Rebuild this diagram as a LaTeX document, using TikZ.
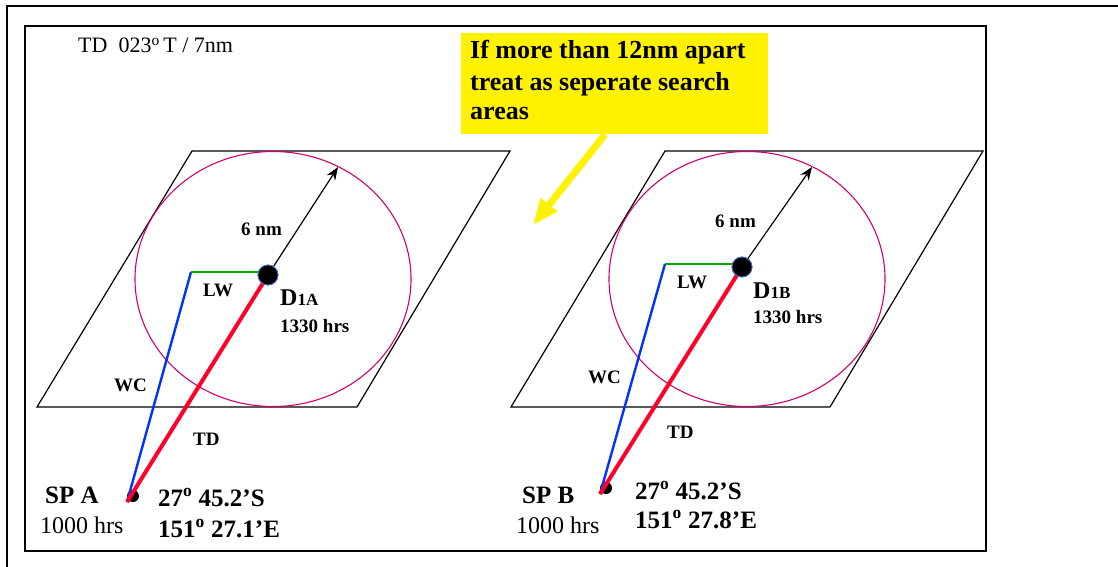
\documentclass[tikz,border=0pt]{standalone}
\usepackage{fontspec}
\setmainfont{Liberation Serif}
\usetikzlibrary{arrows.meta}
\definecolor{circcol}{RGB}{210,0,110}
\definecolor{tdred}{RGB}{255,0,40}
\definecolor{wcblue}{RGB}{0,50,255}
\definecolor{lwgreen}{RGB}{0,170,0}
\definecolor{dotedge}{RGB}{70,110,200}
\begin{document}
\begin{tikzpicture}[x=1pt,y=-1pt,
  para/.style={draw=black,line width=1.2pt},
  circ/.style={draw=circcol,line width=1.1pt},
  tdline/.style={draw=tdred,line width=4pt},
  wcline/.style={draw=wcblue,line width=2.4pt},
  lwline/.style={draw=lwgreen,line width=2.4pt},
  dpos/.style={circle,fill=black,draw=dotedge,line width=0.8pt,minimum size=20pt,inner sep=0pt},
  spdot/.style={circle,fill=black,minimum size=12pt,inner sep=0pt},
  radarrow/.style={draw=black,line width=1.2pt,-{Stealth[length=13pt,width=10pt]}},
  lab/.style={inner sep=0pt,anchor=base west,font=\fontsize{19}{21}\selectfont\bfseries},
  big/.style={inner sep=0pt,anchor=base west,font=\fontsize{25}{28}\selectfont\bfseries},
  reg/.style={inner sep=0pt,anchor=base west,font=\fontsize{24}{28}\selectfont},
  ytext/.style={inner sep=0pt,anchor=base west,font=\fontsize{26}{31}\selectfont\bfseries}
]
\useasboundingbox (0,0) rectangle (1118,567);
% frames
\draw[line width=2.5pt] (1118,6) -- (7,6) -- (7,570);
\draw[line width=2pt] (25,26) rectangle (986,551);

\node[inner sep=0pt,anchor=base west,font=\fontsize{22}{26}\selectfont] (title) at (78,53) {TD\ \ 023\textsuperscript{o}\,T / 7nm};

% yellow note
\node[fill=yellow,minimum width=307pt,minimum height=101pt,inner sep=0pt,anchor=north west] (ybox) at (461,33) {};
\node[ytext] (y1) at (470,59) {If more than 12nm apart};
\node[ytext] (y2) at (470,91) {treat as seperate search};
\node[ytext] (y3) at (470,120) {areas};
\coordinate (ytip) at (533,225);
\draw[draw=yellow,line width=7pt,-{Triangle[length=26pt,width=20pt]}] (ybox.south west -| 605,134) -- (ytip);

% ---------- Group A ----------
\draw[para] (192,151) -- (510,151) -- (357,407) -- (37,407) -- cycle;
\draw[circ] (273,279) ellipse [x radius=138pt, y radius=127.5pt];
\coordinate (cA) at (191,272);
\coordinate (sA) at (127,502);
\coordinate (rA) at (338,167);
\node[dpos] (dA) at (268,275) {};
\node[spdot] (pA) at (133,496) {};
\draw[wcline] (sA) -- (cA);
\draw[lwline] (cA) -- (cA -| dA.center);
\draw[tdline] (sA) -- (dA.center);
\node[dpos] (dA2) at (dA) {};
\draw[radarrow] (dA2) -- (rA);
\node[lab] (nmA) at (241,235) {6 nm};
\node[lab] (lwA) at (203,296) {LW};
\node[inner sep=0pt,anchor=base west,font=\bfseries] (dlA) at (280,305) {{\fontsize{24}{28}\selectfont D}{\fontsize{17}{20}\selectfont 1A}};
\node[lab] (tA) at (280,332) {1330 hrs};
\node[lab] (wcA) at (114,391) {WC};
\node[lab] (tdA) at (193,445) {TD};
\node[big] (spA) at (45,503) {SP\ A};
\node[reg] (hA) at (40,533) {1000 hrs};
\node[big] (latA) at (158,506) {27\textsuperscript{o} 45.2’S};
\node[big] (lonA) at (158,537) {151\textsuperscript{o} 27.1’E};

% ---------- Group B ----------
\draw[para] (665,151) -- (983,151) -- (830,407) -- (511,407) -- cycle;
\draw[circ] (747,279) ellipse [x radius=138pt, y radius=127.5pt];
\coordinate (cB) at (665,264);
\coordinate (sB) at (600,494);
\coordinate (rB) at (812,167);
\node[dpos] (dB) at (742,267) {};
\node[spdot] (pB) at (606,488) {};
\draw[wcline] (sB) -- (cB);
\draw[lwline] (cB) -- (cB -| dB.center);
\draw[tdline] (sB) -- (dB.center);
\node[dpos] (dB2) at (dB) {};
\draw[radarrow] (dB2) -- (rB);
\node[lab] (nmB) at (715,227) {6 nm};
\node[lab] (lwB) at (677,288) {LW};
\node[inner sep=0pt,anchor=base west,font=\bfseries] (dlB) at (753,298) {{\fontsize{24}{28}\selectfont D}{\fontsize{17}{20}\selectfont 1B}};
\node[lab] (tB) at (753,323) {1330 hrs};
\node[lab] (wcB) at (588,383) {WC};
\node[lab] (tdB) at (667,438) {TD};
\node[big] (spB) at (522,503) {SP\ B};
\node[reg] (hB) at (516,533) {1000 hrs};
\node[big] (latB) at (635,499) {27\textsuperscript{o} 45.2’S};
\node[big] (lonB) at (635,528) {151\textsuperscript{o} 27.8’E};
\end{tikzpicture}
\end{document}
